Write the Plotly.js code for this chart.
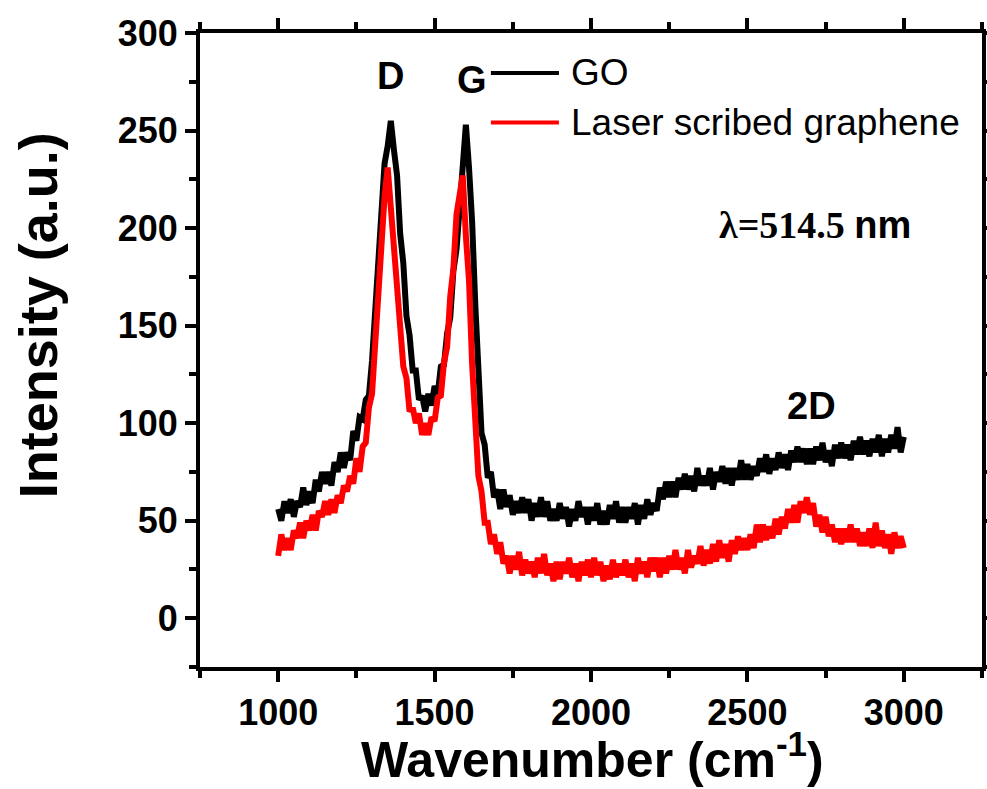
<!DOCTYPE html>
<html>
<head>
<meta charset="utf-8">
<script src="https://cdn.plot.ly/plotly-3.0.1.min.js"></script>
<style>html,body{margin:0;padding:0;background:#fff;}#chart{width:987px;height:789px;}</style>
</head>
<body>
<div id="chart"></div>
<script>
// Raman shift (cm^-1)
const wavenumber = [
1000,1010,1020,1030,1040,1050,1060,1070,1080,1090,
1100,1110,1120,1130,1140,1150,1160,1170,1180,1190,
1200,1210,1220,1230,1240,1250,1260,1270,1280,1290,
1300,1310,1320,1330,1340,1350,1360,1370,1380,1390,
1400,1410,1420,1430,1440,1450,1460,1470,1480,1490,
1500,1510,1520,1530,1540,1550,1560,1570,1580,1590,
1600,1610,1620,1630,1640,1650,1660,1670,1680,1690,
1700,1710,1720,1730,1740,1750,1760,1770,1780,1790,
1800,1810,1820,1830,1840,1850,1860,1870,1880,1890,
1900,1910,1920,1930,1940,1950,1960,1970,1980,1990,
2000,2010,2020,2030,2040,2050,2060,2070,2080,2090,
2100,2110,2120,2130,2140,2150,2160,2170,2180,2190,
2200,2210,2220,2230,2240,2250,2260,2270,2280,2290,
2300,2310,2320,2330,2340,2350,2360,2370,2380,2390,
2400,2410,2420,2430,2440,2450,2460,2470,2480,2490,
2500,2510,2520,2530,2540,2550,2560,2570,2580,2590,
2600,2610,2620,2630,2640,2650,2660,2670,2680,2690,
2700,2710,2720,2730,2740,2750,2760,2770,2780,2790,
2800,2810,2820,2830,2840,2850,2860,2870,2880,2890,
2900,2910,2920,2930,2940,2950,2960,2970,2980,2990,
3000];

// GO intensity (a.u.)
const goIntensity = [
56,50,60,54,61,52,60,57,67,58,
65,59,71,65,75,69,75,68,80,75,
85,77,85,81,96,91,103,102,112,114,
132,155,184,209,233,242,255,240,227,197,
182,155,145,127,127,112,114,106,115,109,
119,115,129,130,146,154,178,189,214,230,
253,231,203,161,133,95,89,72,75,62,
66,56,66,57,63,53,60,54,62,54,
61,50,59,52,62,52,60,50,56,50,
59,51,57,47,56,50,60,52,57,48,
57,50,59,48,55,48,58,51,60,49,
57,49,57,51,59,48,58,51,61,53,
59,55,67,61,70,62,70,62,72,66,
74,66,73,65,77,68,73,68,77,66,
75,70,78,69,77,68,77,71,81,71,
79,71,78,73,82,75,84,74,82,76,
85,77,84,76,86,80,88,80,87,79,
87,79,88,81,90,80,86,78,89,82,
90,82,89,81,91,84,93,84,91,83,
92,85,94,83,92,85,94,87,98,85,
93];

// Laser scribed graphene intensity (a.u.)
const lsgIntensity = [
32,43,35,41,35,45,41,49,41,50,
45,53,45,55,52,60,53,61,54,63,
59,68,65,73,69,82,75,88,90,108,
115,143,164,201,216,231,212,194,167,152,
129,123,106,108,100,105,94,100,94,103,
101,113,114,131,139,165,179,207,218,227,
196,173,130,104,73,65,49,49,38,43,
33,39,28,32,23,32,25,34,22,30,
23,29,21,31,23,33,22,28,19,29,
20,29,23,31,21,28,19,29,22,30,
21,31,22,29,19,27,20,30,21,28,
22,30,21,28,19,31,23,29,21,31,
24,31,21,31,23,32,25,35,25,31,
23,35,26,32,28,37,27,35,28,38,
29,40,31,38,29,40,33,42,35,41,
35,43,36,48,39,48,40,47,41,51,
43,52,46,56,49,58,49,60,54,62,
53,59,47,53,44,52,42,48,39,46,
38,46,39,48,39,46,37,44,37,46,
36,49,37,45,36,43,33,44,36,42,
36];

const seriesNames = ["GO", "Laser scribed graphene"];
const seriesColors = ["#000000", "#ff0000"];
const xTitle = "Wavenumber (cm<sup>-1</sup>)";
const yTitle = "Intensity (a.u.)";
const peakLabels = ["D", "G", "2D"];
const peakLabelX = [1358, 1619, 2705];
const peakLabelY = [278, 276, 109];

const traces = [
  {x: wavenumber, y: goIntensity, name: seriesNames[0], type: "scatter", mode: "lines",
   line: {color: seriesColors[0], width: 6}, showlegend: false},
  {x: wavenumber, y: lsgIntensity, name: seriesNames[1], type: "scatter", mode: "lines",
   line: {color: seriesColors[1], width: 6}, showlegend: false}
];

const sans = "Liberation Sans, Arial, sans-serif";
const tickFont = {family: sans, size: 36, color: "#000", weight: "bold"};

const annotations = peakLabels.map((t, i) => ({
  x: peakLabelX[i], y: peakLabelY[i], xref: "x", yref: "y", text: "<b>" + t + "</b>",
  showarrow: false, font: {family: sans, size: 38, color: "#000"}
}));

// legend texts
const legendY = [0.937, 0.859];
seriesNames.forEach((n, i) => {
  annotations.push({x: 0.472, y: legendY[i], xref: "paper", yref: "paper", text: n,
    showarrow: false, xanchor: "left", yanchor: "middle",
    font: {family: sans, size: 37, color: "#000"}});
});
annotations.push({x: 0.786, y: 0.697, xref: "paper", yref: "paper",
  text: "<b>λ=514.5 <span style=\"font-family:'Liberation Sans',Arial,sans-serif\">nm</span></b>",
  showarrow: false, xanchor: "center", yanchor: "middle",
  font: {family: "Liberation Serif, Times New Roman, serif", size: 38, color: "#000"}});
// axis titles
annotations.push({x: -0.207, y: 0.555, xref: "paper", yref: "paper", text: "<b>" + yTitle + "</b>",
  textangle: -90, showarrow: false, xanchor: "center", yanchor: "middle",
  font: {family: sans, size: 54, color: "#000"}});
annotations.push({x: 0.502, y: -0.14, xref: "paper", yref: "paper", text: "<b>" + xTitle + "</b>",
  showarrow: false, xanchor: "center", yanchor: "middle",
  font: {family: sans, size: 50, color: "#000"}});

const shapes = seriesColors.map((c, i) => ({
  type: "line", xref: "paper", yref: "paper", x0: 0.372, x1: 0.459, y0: legendY[i], y1: legendY[i],
  line: {color: c, width: 4}
}));

const layout = {
  width: 987, height: 789,
  margin: {l: 200, r: 5, t: 33, b: 122},
  paper_bgcolor: "#fff", plot_bgcolor: "#fff",
  showlegend: false,
  xaxis: {
    range: [750, 3250], tick0: 0, dtick: 500, ticks: "outside", ticklen: 11, tickwidth: 4,
    tickcolor: "#000", showline: true, linewidth: 4, linecolor: "#000", mirror: "allticks",
    showgrid: false, zeroline: false, tickfont: tickFont,
    minor: {dtick: 250, ticks: "outside", ticklen: 7, tickwidth: 4, tickcolor: "#000", showgrid: false}
  },
  yaxis: {
    range: [-25, 300], tick0: 0, dtick: 50, ticks: "outside", ticklen: 11, tickwidth: 4,
    tickcolor: "#000", showline: true, linewidth: 4, linecolor: "#000", mirror: "allticks",
    showgrid: false, zeroline: false, tickfont: tickFont,
    minor: {dtick: 25, ticks: "outside", ticklen: 7, tickwidth: 4, tickcolor: "#000", showgrid: false}
  },
  annotations: annotations,
  shapes: shapes
};

Plotly.newPlot("chart", traces, layout, {displayModeBar: false, staticPlot: true});
</script>
</body>
</html>
